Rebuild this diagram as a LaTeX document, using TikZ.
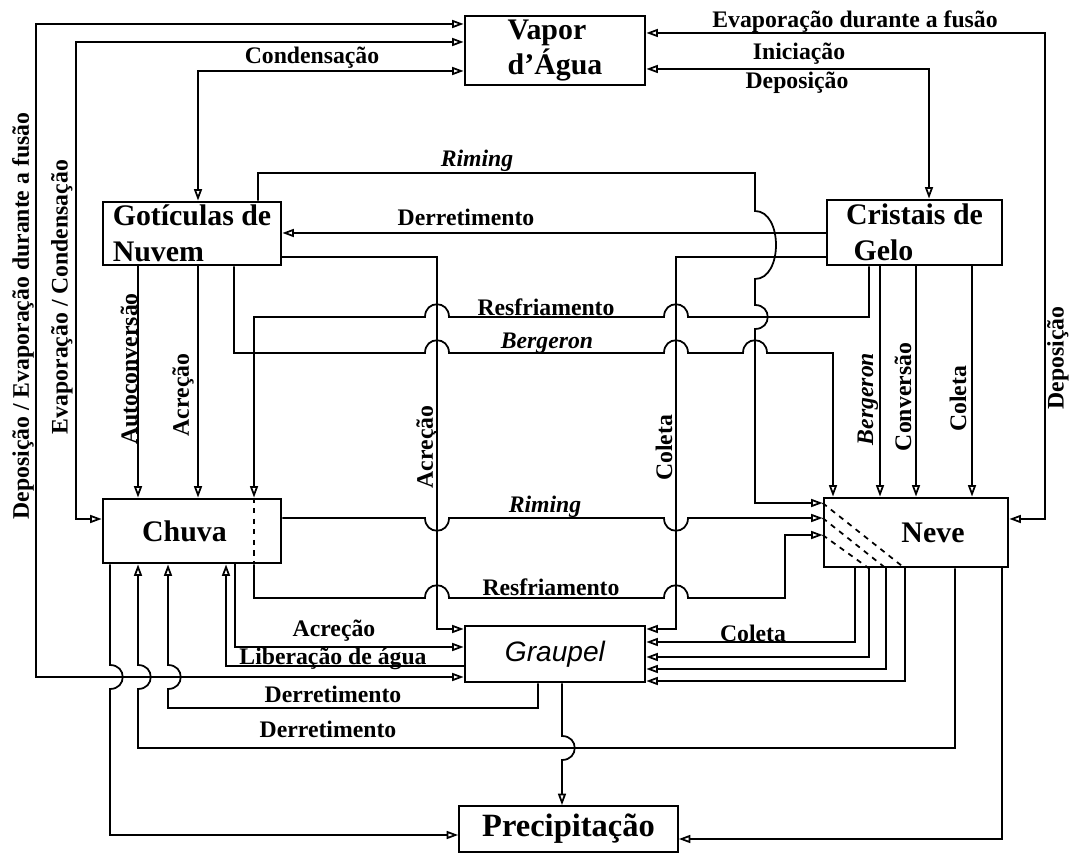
\documentclass[tikz,border=0pt]{standalone}
\usepackage{fontspec}
\setmainfont{Liberation Serif}
\newfontfamily\graupelfont{Liberation Sans}
\usetikzlibrary{arrows.meta}
\newcommand{\jumpR}[2]{-- ({#1-12},#2) .. controls ({#1-12},{#2-17}) and ({#1+12},{#2-17}) .. ({#1+12},#2)}
\newcommand{\jumpL}[2]{-- ({#1+12},#2) .. controls ({#1+12},{#2-17}) and ({#1-12},{#2-17}) .. ({#1-12},#2)}
\newcommand{\jumpRd}[2]{-- ({#1-12},#2) .. controls ({#1-12},{#2+17}) and ({#1+12},{#2+17}) .. ({#1+12},#2)}
\newcommand{\jumpD}[2]{-- (#1,{#2-12}) .. controls ({#1+17},{#2-12}) and ({#1+17},{#2+12}) .. (#1,{#2+12})}
\newcommand{\jumpU}[2]{-- (#1,{#2+12}) .. controls ({#1+17},{#2+12}) and ({#1+17},{#2-12}) .. (#1,{#2-12})}
\begin{document}
\begin{tikzpicture}[x=0.02cm, y=-0.02cm, line width=1pt, >={Triangle[open,length=6.5pt,width=4.5pt]},
    box/.style={draw, line width=1.6pt, inner sep=2pt, align=left, font=\fontsize{17}{20.4}\selectfont\bfseries},
    lbl/.style={inner sep=0pt, font=\fontsize{13.5}{16}\selectfont\bfseries},
    ilbl/.style={inner sep=0pt, font=\fontsize{13.5}{16}\selectfont\bfseries\itshape}]
                \fill[white] (0,0) rectangle (1069,864);

                \node[box, minimum width=3.6cm, minimum height=1.3cm] at (555,50.5) (vap) {Vapor\\d’Água};
                \node[box, minimum width=3.56cm, minimum height=1.26cm, inner sep=0pt] at (192,233.5) (got) {Gotículas de\\Nuvem};
                \node[box, minimum width=3.5cm, minimum height=1.3cm, inner sep=0pt] at (914.5,232.5) (cri) {Cristais de\\\hspace*{0.15cm}Gelo};
                \node[box, minimum width=3.56cm, minimum height=1.28cm] at (192,531) (chu) {Chuva\hspace*{0.3cm}};
                \node[box, minimum width=3.68cm, minimum height=1.38cm] at (916,532.5) (nev) {\hspace*{0.68cm}Neve};
                \node[box, minimum width=3.6cm, minimum height=1.12cm, font=\fontsize{16}{19}\selectfont\graupelfont\itshape] at (555,654) (gra) {Graupel};
                \node[box, line width=1pt, minimum width=4.38cm, minimum height=0.92cm, font=\fontsize{18.5}{22}\selectfont\bfseries] at (568.5,829) (pre) {Precipitação};

            \draw[<->] (vap.west |- 0,24) -| (36,677) -- (gra.west |- 0,677);
            \draw[<->] (vap.west |- 0,42) -| (76,519) -- (chu.west |- 0,519);
            \draw[<->] (vap.west |- 0,71) -| (got.north -| 198,0);
            \draw[<->] (vap.east |- 0,33) -| (1045,519) -- (nev.east |- 0,519);
            \draw[<->] (vap.east |- 0,69) -| (cri.north -| 929,0);

            \draw[->] (cri.west |- 0,233) -- (got.east |- 0,233);
            \draw[->] (got.north -| 258,0) |- (755,173) -- (755,211) .. controls (783,211) and (783,279) .. (755,279) \jumpD{755}{317} |- (nev.west |- 0,503);
            \draw[->] (got.east |- 0,257) -| (437,629) -- (gra.west |- 0,629);
            \draw[->] (cri.west |- 0,257) -| (676,629) -- (gra.east |- 0,629);

            \draw[->] (got.south -| 138,0) -- (chu.north -| 138,0);
            \draw[->] (got.south -| 198,0) -- (chu.north -| 198,0);
            \draw[->] (got.south -| 234,0) -- (234,353) \jumpR{437}{353} \jumpR{676}{353} \jumpR{755}{353} -| (nev.north -| 833,0);
            \draw[->] (cri.south -| 869,0) -- (869,317) \jumpL{676}{317} \jumpL{437}{317} -| (chu.north -| 254,0);
            \draw[->] (cri.south -| 880,0) -- (nev.north -| 880,0);
            \draw[->] (cri.south -| 916,0) -- (nev.north -| 916,0);
            \draw[->] (cri.south -| 972,0) -- (nev.north -| 972,0);

            \draw[->] (chu.east |- 0,518) \jumpRd{437}{518} \jumpRd{676}{518} -- (nev.west |- 0,518);
            \draw[->] (chu.south -| 254,0) -- (254,598) \jumpR{437}{598} \jumpR{676}{598} -| (785,535) -- (nev.west |- 0,535);
            \draw[dashed] (chu.north -| 254,0) -- (chu.south -| 254,0);
            \draw[dashed] (nev.west |- 0,503) -- (nev.south -| 905,0);
            \draw[dashed] (nev.west |- 0,518) -- (nev.south -| 886,0);
            \draw[dashed] (nev.west |- 0,535) -- (nev.south -| 869,0);

            \draw[->] (nev.south -| 855,0) |- (gra.east |- 0,642);
            \draw[->] (nev.south -| 869,0) |- (gra.east |- 0,657);
            \draw[->] (nev.south -| 886,0) |- (gra.east |- 0,669);
            \draw[->] (nev.south -| 905,0) |- (gra.east |- 0,681);

            \draw[->] (chu.south -| 235,0) |- (gra.west |- 0,647);
            \draw[->] (gra.west |- 0,666) -| (chu.south -| 226,0);
            \draw[->] (gra.south -| 538,0) |- (168,708) \jumpU{168}{677} -- (chu.south -| 168,0);
            \draw[->] (nev.south -| 955,0) |- (138,748) \jumpU{138}{677} -- (chu.south -| 138,0);
            \draw[->] (chu.south -| 110,0) \jumpD{110}{677} |- (pre.west |- 0,835);
            \draw[->] (gra.south -| 562,0) \jumpD{562}{748} -- (pre.north -| 562,0);
            \draw[->] (nev.south -| 1002,0) |- (pre.east |- 0,839);

            \node[lbl] at (312,58) (lcond) {Condensação};
            \node[lbl] at (855,22) (levapfus) {Evaporação durante a fusão};
            \node[lbl] at (799,54) (linic) {Iniciação};
            \node[lbl] at (797,83) (ldepos) {Deposição};
            \node[ilbl] at (477,161) (lrimtop) {Riming};
            \node[lbl] at (466,217) (lderrtop) {Derretimento};
            \node[lbl] at (546,307) (lresftop) {Resfriamento};
            \node[ilbl] at (547,343) (lberg) {Bergeron};
            \node[ilbl] at (545,507) (lrimmid) {Riming};
            \node[lbl] at (551,587) (lresfbot) {Resfriamento};
            \node[lbl] at (334,631) (lacrgra) {Acreção};
            \node[lbl] at (333,659) (llib) {Liberação de água};
            \node[lbl] at (333,694) (lderrgra) {Derretimento};
            \node[lbl] at (328,729) (lderrnev) {Derretimento};
            \node[lbl] at (753,633) (lcolgra) {Coleta};

            \node[lbl, rotate=90] at (23,316) (ldepevap) {Deposição / Evaporação durante a fusão};
            \node[lbl, rotate=90] at (62,297) (levapcond) {Evaporação / Condensação};
            \node[lbl, rotate=90] at (129,369) (lauto) {Autoconversão};
            \node[lbl, rotate=90] at (183,395) (lacrchu) {Acreção};
            \node[lbl, rotate=90] at (427,447) (lacrmid) {Acreção};
            \node[lbl, rotate=90] at (664,448) (lcolmid) {Coleta};
            \node[ilbl, rotate=90] at (868,399) (lbergnev) {Bergeron};
            \node[lbl, rotate=90] at (903,397) (lconv) {Conversão};
            \node[lbl, rotate=90] at (958,399) (lcolnev) {Coleta};
            \node[lbl, rotate=90] at (1058,358) (ldepnev) {Deposição};

            \end{tikzpicture}
\end{document}
